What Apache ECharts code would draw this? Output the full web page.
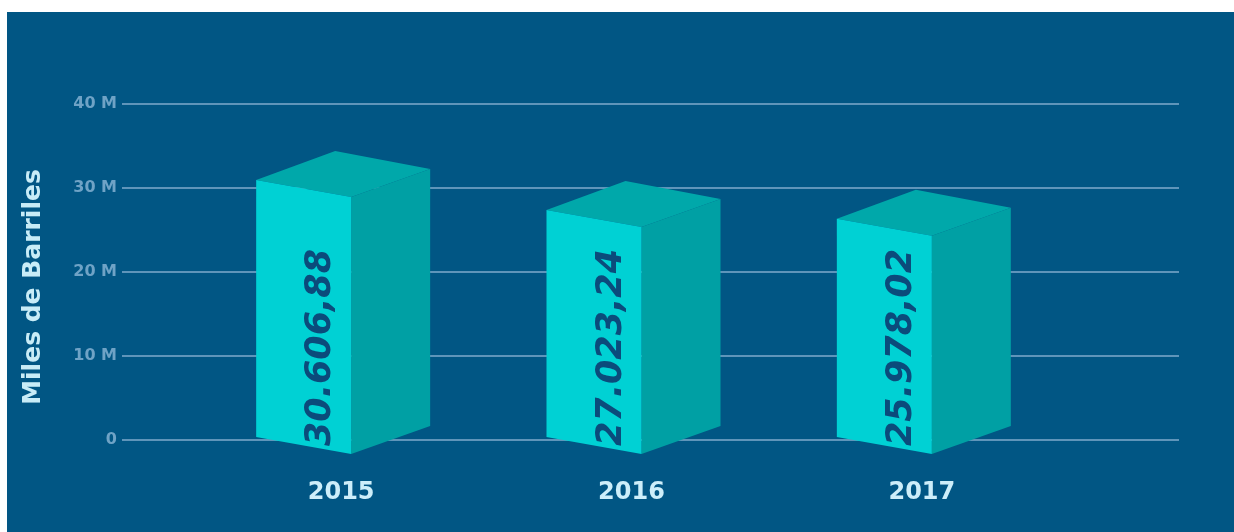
<!DOCTYPE html>
<html>
<head>
<meta charset="utf-8">
<script src="https://cdn.jsdelivr.net/npm/echarts@6/dist/echarts.min.js"></script>
<style>
  html, body { margin: 0; padding: 0; background: #ffffff; width: 1234px; height: 532px; overflow: hidden; }
  #chart { position: absolute; left: 7px; top: 12px; width: 1227px; height: 520px; }
</style>
</head>
<body>
<div id="chart"></div>
<script>
// Data (miles de barriles)
const categories = ['2015', '2016', '2017'];
const valuesMiles = [30606.88, 27023.24, 25978.02];
const yMin = 0, yMax = 40000, yInterval = 10000;
const yAxisName = 'Miles de Barriles';

function fmtEs(v) {
  const parts = v.toFixed(2).split('.');
  const intPart = parts[0].replace(/\B(?=(\d{3})+(?!\d))/g, '.');
  return intPart + ',' + parts[1];
}

const FONT = '"DejaVu Sans", sans-serif';
const chart = echarts.init(document.getElementById('chart'), null, { renderer: 'canvas' });

function renderBox(params, api) {
  const idx = api.value(0);
  const val = api.value(1);
  const base = api.coord([idx, 0]);
  const top = api.coord([idx, val]);
  const c = base[0];
  const y0 = base[1];
  const yv = top[1];
  const xL = c - 85, xF = c + 10, xR = c + 89, xB = c - 6;
  const front = [[xL, yv - 3], [xF, yv + 14], [xF, y0 + 14], [xL, y0 - 3]];
  const side = [[xF, yv + 14], [xR, yv - 14], [xR, y0 - 14], [xF, y0 + 14]];
  const topFace = [[xL, yv - 3], [xB, yv - 32], [xR, yv - 14], [xF, yv + 14]];
  return {
    type: 'group',
    children: [
      { type: 'polygon', shape: { points: side }, style: { fill: '#00a0a4' } },
      { type: 'polygon', shape: { points: topFace }, style: { fill: '#00a8aa' } },
      { type: 'polygon', shape: { points: front }, style: { fill: '#00d1d4' } },
      {
        type: 'text',
        x: c - 20,
        y: y0 + 6,
        rotation: Math.PI / 2,
        style: {
          text: fmtEs(valuesMiles[idx]),
          fill: '#0b4b7b',
          font: 'italic bold 35px ' + FONT,
          align: 'left',
          verticalAlign: 'middle'
        }
      }
    ]
  };
}

const option = {
  backgroundColor: '#015684',
  animation: false,
  grid: [
    { left: 115, right: 55, top: 92, bottom: 92 },
    { left: 189, right: 167, top: 92, bottom: 92 }
  ],
  xAxis: [
    { type: 'value', gridIndex: 0, show: false, min: 0, max: 1 },
    {
      type: 'category', gridIndex: 1, data: categories, boundaryGap: true,
      axisLine: { show: false }, axisTick: { show: false },
      axisLabel: { color: '#cdeefa', fontFamily: FONT, fontWeight: 'bold', fontSize: 24, margin: 41 }
    }
  ],
  yAxis: [
    {
      type: 'value', gridIndex: 0, min: yMin, max: yMax, interval: yInterval,
      axisLine: { show: false }, axisTick: { show: false },
      splitLine: { show: true, lineStyle: { color: '#5f95ba', width: 2 } },
      axisLabel: {
        color: '#6fa3c6', fontFamily: FONT, fontWeight: 'bold', fontSize: 16, margin: 5,
        formatter: function (v) { return v === 0 ? '0' : (v / 1000) + ' M'; }
      }
    },
    { type: 'value', gridIndex: 1, min: yMin, max: yMax, interval: yInterval, show: false }
  ],
  graphic: [
    {
      type: 'text', x: 26, y: 275, rotation: Math.PI / 2,
      style: {
        text: yAxisName, fill: '#c8ecf7', font: 'bold 25px ' + FONT,
        align: 'center', verticalAlign: 'middle'
      }
    }
  ],
  series: [
    {
      type: 'custom',
      xAxisIndex: 1,
      yAxisIndex: 1,
      clip: false,
      encode: { x: 0, y: 1 },
      data: valuesMiles.map(function (v, i) { return [i, v]; }),
      renderItem: renderBox
    }
  ]
};
chart.setOption(option);
</script>
</body>
</html>
